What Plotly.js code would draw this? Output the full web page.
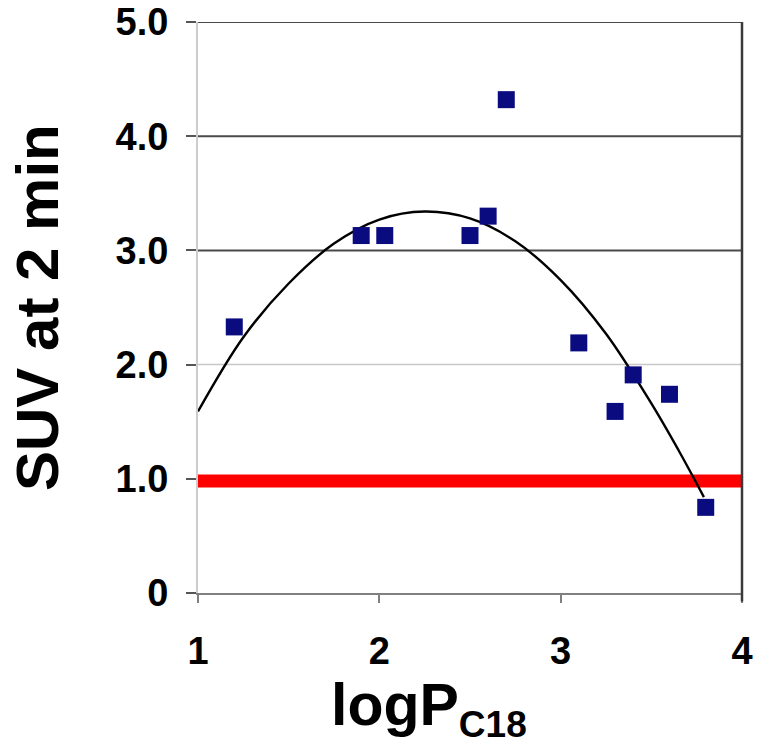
<!DOCTYPE html>
<html>
<head>
<meta charset="utf-8">
<script src="https://cdn.plot.ly/plotly-3.0.1.min.js"></script>
<style>
html,body{margin:0;padding:0;background:#fff;}
#chart{width:758px;height:745px;}
</style>
</head>
<body>
<div id="chart"></div>
<script>
// Measured data points (logP_C18 vs SUV at 2 min)
var logP = [1.2, 1.9, 2.03, 2.5, 2.6, 2.7, 3.1, 3.3, 3.4, 3.6, 3.8];
var suv  = [2.33, 3.13, 3.13, 3.13, 3.30, 4.32, 2.19, 1.59, 1.91, 1.74, 0.75];

// Trendline
var trendX = [1.0, 1.25, 1.5, 1.75, 2.0, 2.25, 2.5, 2.75, 3.0, 3.25, 3.5, 3.65, 3.79];
var trendY = [1.59, 2.24, 2.71, 3.06, 3.27, 3.34, 3.28, 3.08, 2.74, 2.27, 1.66, 1.25, 0.84];

// Threshold line
var thresholdX = [1, 4];
var thresholdY = [0.98, 0.98];

// Axis ticks
var yTickVals = [0, 1, 2, 3, 4, 5];
var yTickText = ['0', '1.0', '2.0', '3.0', '4.0', '5.0'];
var xTickVals = [1, 2, 3, 4];
var xTickText = ['1', '2', '3', '4'];

// Gridlines
var darkGrid = [3, 4, 5];
var lightGrid = [2];

var FONT = 'Arial, "Liberation Sans", sans-serif';

var shapes = [];
darkGrid.forEach(function (g) {
  shapes.push({type: 'line', xref: 'x', yref: 'y', x0: 1, x1: 4, y0: g, y1: g,
    line: {color: '#4a4a4a', width: 2}, layer: 'below'});
});
lightGrid.forEach(function (g) {
  shapes.push({type: 'line', xref: 'x', yref: 'y', x0: 1, x1: 4, y0: g, y1: g,
    line: {color: '#c8c8c8', width: 1.5}, layer: 'below'});
});

var traces = [
  {
    x: thresholdX, y: thresholdY, mode: 'lines', type: 'scatter',
    line: {color: '#ff0000', width: 13}, hoverinfo: 'skip'
  },
  {
    x: trendX, y: trendY, mode: 'lines', type: 'scatter',
    line: {color: '#000000', width: 2.4, shape: 'spline', smoothing: 1}, hoverinfo: 'skip'
  },
  {
    x: logP, y: suv, mode: 'markers', type: 'scatter',
    marker: {symbol: 'square', size: 17, color: '#0b0b80'}
  }
];

var layout = {
  width: 758, height: 745,
  margin: {l: 198, r: 16, t: 22, b: 152},
  paper_bgcolor: '#ffffff', plot_bgcolor: '#ffffff',
  showlegend: false,
  font: {family: FONT, color: '#000'},
  xaxis: {
    range: [1, 4], tickvals: xTickVals, ticktext: xTickText,
    showgrid: false, zeroline: false,
    showline: true, linecolor: '#808080', linewidth: 2,
    ticks: 'outside', ticklen: 8, tickwidth: 2, tickcolor: '#808080',
    tickfont: {family: FONT, size: 38, weight: 'bold', color: '#000'},
    ticklabelstandoff: 15
  },
  yaxis: {
    range: [0, 5], tickvals: yTickVals, ticktext: yTickText,
    showgrid: false, zeroline: false,
    showline: true, linecolor: '#cccccc', linewidth: 2,
    ticks: 'outside', ticklen: 10, tickwidth: 2, tickcolor: '#555555',
    tickfont: {family: FONT, size: 38, weight: 'bold', color: '#000'},
    ticklabelstandoff: 10
  },
  shapes: shapes.concat([
    {type: 'line', xref: 'paper', yref: 'paper', x0: 1, x1: 1, y0: -0.015, y1: 1,
     line: {color: '#3a3a3a', width: 2.5}}
  ]),
  annotations: [
    {
      xref: 'paper', yref: 'paper', x: -0.295, y: 0.5,
      xanchor: 'center', yanchor: 'middle', textangle: -90, showarrow: false,
      text: 'SUV at 2 min',
      font: {family: FONT, size: 60, weight: 'bold', color: '#000'}
    },
    {
      xref: 'paper', yref: 'paper', x: 0.425, y: -0.134,
      xanchor: 'center', yanchor: 'top', showarrow: false,
      text: 'logP<sub><span style="font-size:37px">C18</span></sub>',
      font: {family: FONT, size: 59, weight: 'bold', color: '#000'}
    }
  ]
};

Plotly.newPlot('chart', traces, layout, {displayModeBar: false, staticPlot: true});
</script>
</body>
</html>
